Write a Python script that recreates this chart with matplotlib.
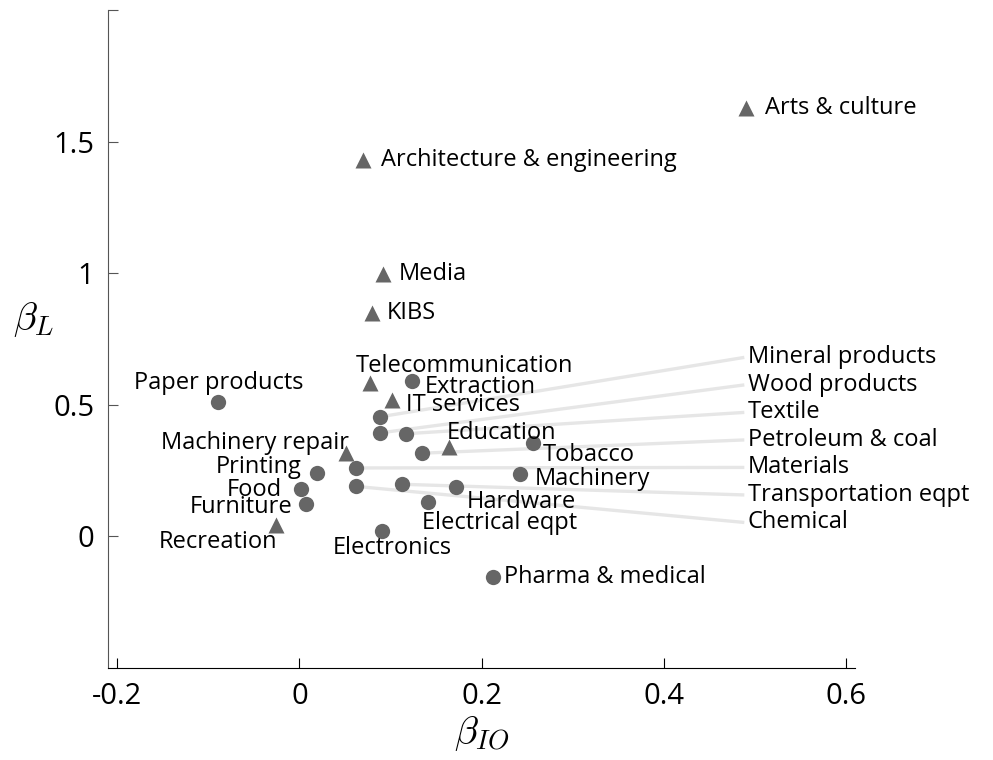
import matplotlib
matplotlib.use("Agg")
import matplotlib.pyplot as plt

plt.rcParams['font.family'] = ['Open Sans', 'DejaVu Sans']
plt.rcParams['mathtext.fontset'] = 'cm'

# sector data: beta_IO (x), beta_L (y), kind: 's' = service (triangle), 'm' = manufacturing (circle)
sectors = ['Arts & culture', 'Architecture & engineering', 'Media', 'KIBS',
           'Telecommunication', 'Extraction', 'IT services', 'Paper products',
           'Mineral products', 'Wood products', 'Textile', 'Petroleum & coal',
           'Education', 'Tobacco', 'Machinery repair', 'Materials', 'Printing',
           'Machinery', 'Chemical', 'Transportation eqpt', 'Hardware', 'Food',
           'Furniture', 'Electrical eqpt', 'Recreation', 'Electronics',
           'Pharma & medical']
beta_io = [0.490, 0.070, 0.092, 0.080,
           0.077, 0.124, 0.102, -0.089,
           0.088, 0.088, 0.117, 0.134,
           0.164, 0.256, 0.051, 0.062, 0.019,
           0.242, 0.062, 0.113, 0.172, 0.002,
           0.007, 0.141, -0.026, 0.091,
           0.213]
beta_l = [1.626, 1.431, 0.996, 0.847,
          0.584, 0.592, 0.519, 0.511,
          0.454, 0.393, 0.390, 0.316,
          0.340, 0.355, 0.318, 0.260, 0.240,
          0.237, 0.190, 0.198, 0.188, 0.179,
          0.122, 0.130, 0.042, 0.019,
          -0.153]
kind = ['s', 's', 's', 's',
        's', 'm', 's', 'm',
        'm', 'm', 'm', 'm',
        's', 'm', 's', 'm', 'm',
        'm', 'm', 'm', 'm', 'm',
        'm', 'm', 's', 'm',
        'm']

# sectors labelled in the column on the right
callouts = ['Mineral products', 'Wood products', 'Textile', 'Petroleum & coal',
            'Materials', 'Transportation eqpt', 'Chemical']

# label offsets in pixels (dx, dy, ha)
offsets = {
    'Arts & culture': (19, 0, 'left'),
    'Architecture & engineering': (18, 0, 'left'),
    'Media': (15, 0, 'left'),
    'KIBS': (14, 0, 'left'),
    'Telecommunication': (95, 17, 'center'),
    'Extraction': (12, -6, 'left'),
    'IT services': (14, -5, 'left'),
    'Paper products': (0, 19, 'center'),
    'Machinery repair': (3, 10, 'right'),
    'Printing': (-15, 6, 'right'),
    'Food': (-19, -1, 'right'),
    'Furniture': (-13, -3, 'right'),
    'Recreation': (1, -17, 'right'),
    'Electronics': (10, -17, 'center'),
    'Electrical eqpt': (-6, -21, 'left'),
    'Hardware': (11, -15, 'left'),
    'Machinery': (15, -5, 'left'),
    'Tobacco': (10, -12, 'left'),
    'Education': (-2, 14, 'left'),
    'Pharma & medical': (11, 0, 'left'),
}

mark_color = '#666666'
fs = 17

fig = plt.figure(figsize=(9.93, 7.6), dpi=100)
ax = fig.add_axes([0.109, 0.121, 0.752, 0.866])

for x, y, k in zip(beta_io, beta_l, kind):
    ax.plot(x, y, marker='^' if k == 's' else 'o', ms=12 if k == 's' else 11,
            color=mark_color, mec='none', zorder=3, clip_on=False)

# right-hand column of labels with leader lines
col_x, line_x = 0.492, 0.4885
col_top, col_step = 0.680, 0.1045
for i, name in enumerate(callouts):
    j = sectors.index(name)
    ly = col_top - i * col_step
    ax.plot([beta_io[j], line_x], [beta_l[j], ly], color='#e6e6e6', lw=2.4,
            zorder=1, solid_capstyle='butt')
    ax.text(col_x, ly, name, fontsize=fs, ha='left', va='center', zorder=4)

for name, (dx, dy, ha) in offsets.items():
    j = sectors.index(name)
    ax.annotate(name, (beta_io[j], beta_l[j]), xytext=(dx, dy),
                textcoords='offset pixels', fontsize=fs, ha=ha, va='center',
                zorder=4)

ax.set_xlim(-0.21, 0.61)
ax.set_ylim(-0.5, 2.0)
ax.set_xticks([-0.2, 0, 0.2, 0.4, 0.6])
ax.set_xticklabels(['-0.2', '0', '0.2', '0.4', '0.6'])
ax.set_yticks([0, 0.5, 1, 1.5, 2.0])
ax.set_yticklabels(['0', '0.5', '1', '1.5', ''])
ax.tick_params(direction='in', length=7, width=0.8, labelsize=21, pad=10)
ax.tick_params(axis='y', colors='#555555', labelcolor='black')

ax.spines['top'].set_visible(False)
ax.spines['right'].set_visible(False)
ax.spines['left'].set_color('#555555')
ax.spines['bottom'].set_color('black')

ax.set_xlabel(r'$\beta_{IO}$', fontsize=28, labelpad=2)
ax.set_ylabel(r'$\beta_L$', fontsize=28, rotation=0, labelpad=22)
ax.yaxis.set_label_coords(-0.1, 0.5)

fig.savefig('out.png', dpi=100)
